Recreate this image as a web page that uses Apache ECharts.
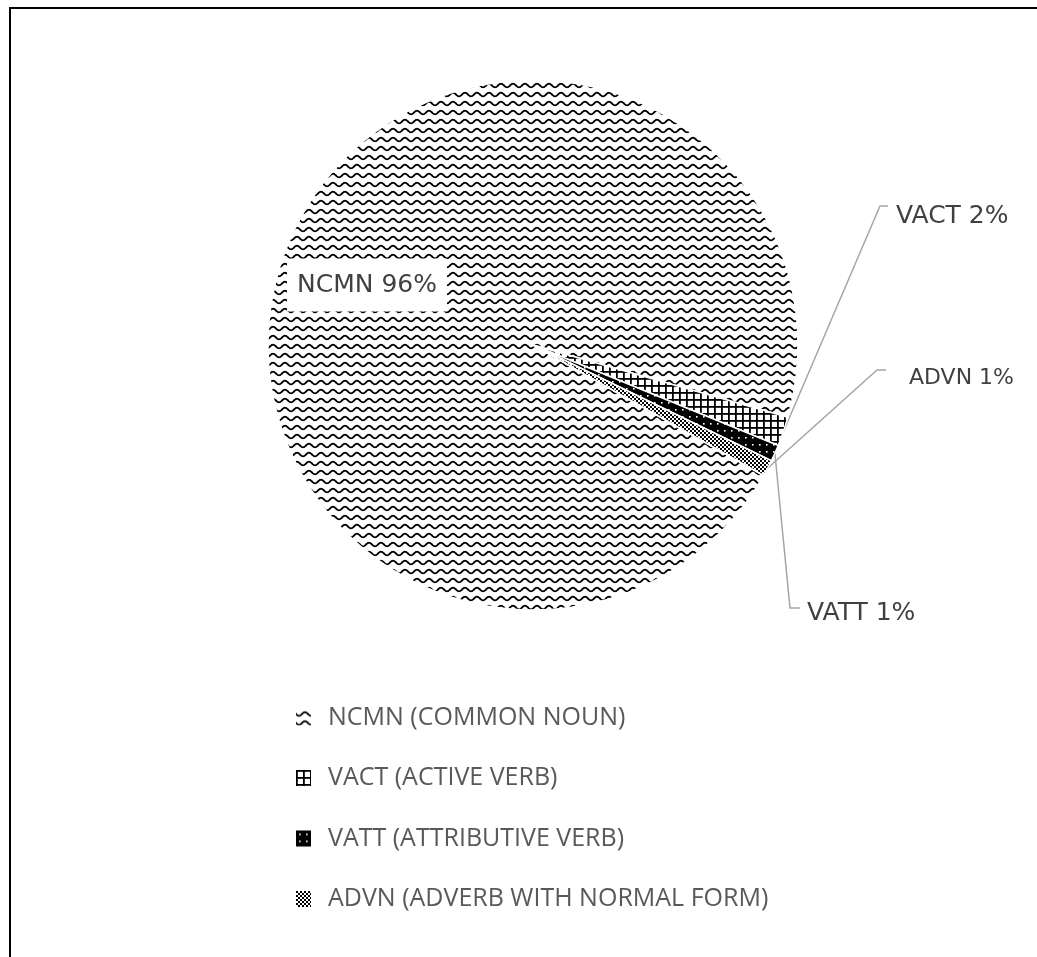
<!DOCTYPE html>
<html>
<head>
<meta charset="utf-8">
<script src="https://cdn.jsdelivr.net/npm/echarts@6/dist/echarts.min.js"></script>
<style>
  html, body { margin: 0; padding: 0; background: #fff; }
  #chart { width: 1037px; height: 957px; }
</style>
</head>
<body>
<div id="chart"></div>
<script>
// ---- data ----
const categories = ['NCMN (COMMON NOUN)', 'VACT (ACTIVE VERB)', 'VATT (ATTRIBUTIVE VERB)', 'ADVN (ADVERB WITH NORMAL FORM)'];
const shortNames = ['NCMN', 'VACT', 'VATT', 'ADVN'];
const values = [96.2, 1.8, 1.0, 1.0];

// ---- label placement (layout only) ----
const labelAnchors = [
  { x: 367, y: 285, align: 'center' },
  { x: 896, y: 216, align: 'left', bend: [880, 206], end: [888, 206] },
  { x: 807, y: 613, align: 'left', bend: [790, 608], end: [800, 608] },
  { x: 909, y: 378, align: 'left', bend: [877, 370], end: [886, 370] }
];

// ---- fill patterns ----
function makeCanvas(w, h, draw) {
  const c = document.createElement('canvas');
  c.width = w; c.height = h;
  const ctx = c.getContext('2d');
  draw(ctx, w, h);
  return c;
}
const wave = makeCanvas(12, 9, (ctx, w, h) => {
  ctx.fillStyle = '#fff'; ctx.fillRect(0, 0, w, h);
  ctx.strokeStyle = '#000'; ctx.lineWidth = 1.8;
  ctx.beginPath();
  for (let x = -1; x <= w + 1; x += 0.5) {
    const y = 4.5 + 1.8 * Math.sin(2 * Math.PI * x / w);
    if (x === -1) ctx.moveTo(x, y); else ctx.lineTo(x, y);
  }
  ctx.stroke();
});
const grid = makeCanvas(7, 7, (ctx, w, h) => {
  ctx.fillStyle = '#fff'; ctx.fillRect(0, 0, w, h);
  ctx.fillStyle = '#000';
  ctx.fillRect(0, 0, w, 1.8);
  ctx.fillRect(0, 0, 1.8, h);
});
const dots = makeCanvas(7, 7, (ctx, w, h) => {
  ctx.fillStyle = '#000'; ctx.fillRect(0, 0, w, h);
  ctx.fillStyle = '#fff'; ctx.fillRect(3, 3, 1.6, 1.6);
});
const checker = makeCanvas(4, 4, (ctx, w, h) => {
  ctx.fillStyle = '#fff'; ctx.fillRect(0, 0, w, h);
  ctx.fillStyle = '#000';
  ctx.fillRect(0, 0, 2, 2); ctx.fillRect(2, 2, 2, 2);
});
const fills = [wave, grid, dots, checker].map(c => ({ image: c, repeat: 'repeat' }));

const LEGEND_FONT = '"Open Sans", "Noto Sans", sans-serif';
const LABEL_FONT = '"DejaVu Sans", "Open Sans", sans-serif';

const chart = echarts.init(document.getElementById('chart'), null, { renderer: 'canvas' });
chart.setOption({
  animation: false,
  backgroundColor: '#fff',
  graphic: [{
    type: 'rect',
    shape: { x: 10, y: 8, width: 1040, height: 970 },
    style: { fill: 'none', stroke: '#000', lineWidth: 2 },
    silent: true
  }],
  legend: {
    orient: 'vertical',
    left: 296,
    top: 705,
    padding: 0,
    icon: 'rect',
    itemWidth: 15,
    itemHeight: 16,
    itemGap: 35.5,
    itemStyle: { borderWidth: 0 },
    textStyle: { fontSize: 25, lineHeight: 25, color: '#595959', fontFamily: LEGEND_FONT, padding: [0, 0, 0, 12] },
    data: categories
  },
  series: [{
    type: 'pie',
    center: [533, 345],
    radius: 265,
    startAngle: 330.5,
    clockwise: true,
    avoidLabelOverlap: false,
    itemStyle: { borderColor: '#fff', borderWidth: 1.5 },
    emphasis: { disabled: true },
    label: {
      show: true,
      position: 'outside',
      fontSize: 25,
      color: '#404040',
      fontFamily: LABEL_FONT,
      formatter: p => shortNames[p.dataIndex] + ' ' + Math.round(p.percent) + '%'
    },
    labelLine: { show: true, lineStyle: { color: '#a6a6a6', width: 1.5 } },
    labelLayout: function (params) {
      const a = labelAnchors[params.dataIndex];
      const res = { x: a.x, y: a.y, align: a.align, verticalAlign: 'middle' };
      if (a.bend && params.labelLinePoints) {
        res.labelLinePoints = [params.labelLinePoints[0], a.bend, a.end];
      }
      return res;
    },
    data: categories.map((name, i) => {
      const item = { name: name, value: values[i], itemStyle: { color: fills[i] } };
      if (i === 0) {
        item.label = { position: 'inside', backgroundColor: '#fff', padding: [14, 10] };
        item.labelLine = { show: false };
      }
      if (i === 3) {
        item.label = { fontSize: 22 };
      }
      return item;
    })
  }]
});
</script>
</body>
</html>
